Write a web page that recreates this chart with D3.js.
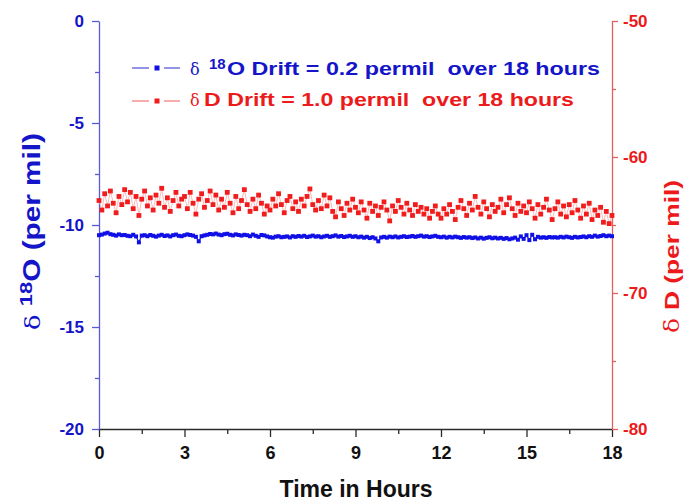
<!DOCTYPE html>
<html><head><meta charset="utf-8">
<script src="https://cdn.jsdelivr.net/npm/d3@7"></script>
<style>
html,body{margin:0;padding:0;background:#fff;}
svg{display:block;font-family:"Liberation Sans",Arial,sans-serif;}
</style>
</head><body><div id="chart"></div>
<script>
const xTicks = [0,3,6,9,12,15,18];
const xMinorTicks = [1.5,4.5,7.5,10.5,13.5,16.5];
const leftTicks = [0,-5,-10,-15,-20];
const leftMinorTicks = [-2.5,-7.5,-12.5,-17.5];
const rightTicks = [-50,-60,-70,-80];
const rightMinorTicks = [-55,-65,-75];

const times = [
0.0,0.1,0.2,0.3,0.4,0.5,0.6,0.7,0.8,0.9,
1.0,1.1,1.2,1.3,1.4,1.5,1.6,1.7,1.8,1.9,
2.0,2.1,2.2,2.3,2.4,2.5,2.6,2.7,2.8,2.9,
3.0,3.1,3.2,3.3,3.4,3.5,3.6,3.7,3.8,3.9,
4.0,4.1,4.2,4.3,4.4,4.5,4.6,4.7,4.8,4.9,
5.0,5.1,5.2,5.3,5.4,5.5,5.6,5.7,5.8,5.9,
6.0,6.1,6.2,6.3,6.4,6.5,6.6,6.7,6.8,6.9,
7.0,7.1,7.2,7.3,7.4,7.5,7.6,7.7,7.8,7.9,
8.0,8.1,8.2,8.3,8.4,8.5,8.6,8.7,8.8,8.9,
9.0,9.1,9.2,9.3,9.4,9.5,9.6,9.7,9.8,9.9,
10.0,10.1,10.2,10.3,10.4,10.5,10.6,10.7,10.8,10.9,
11.0,11.1,11.2,11.3,11.4,11.5,11.6,11.7,11.8,11.9,
12.0,12.1,12.2,12.3,12.4,12.5,12.6,12.7,12.8,12.9,
13.0,13.1,13.2,13.3,13.4,13.5,13.6,13.7,13.8,13.9,
14.0,14.1,14.2,14.3,14.4,14.5,14.6,14.7,14.8,14.9,
15.0,15.1,15.2,15.3,15.4,15.5,15.6,15.7,15.8,15.9,
16.0,16.1,16.2,16.3,16.4,16.5,16.6,16.7,16.8,16.9,
17.0,17.1,17.2,17.3,17.4,17.5,17.6,17.7,17.8,17.9,
18.0];

const d18O = [
-10.50,-10.47,-10.42,-10.38,-10.45,-10.48,-10.52,-10.46,-10.50,-10.49,
-10.53,-10.55,-10.48,-10.56,-10.85,-10.52,-10.50,-10.55,-10.49,-10.53,
-10.57,-10.52,-10.48,-10.54,-10.51,-10.56,-10.50,-10.47,-10.53,-10.55,
-10.50,-10.46,-10.49,-10.52,-10.58,-10.80,-10.55,-10.51,-10.48,-10.44,
-10.46,-10.42,-10.47,-10.50,-10.45,-10.43,-10.48,-10.51,-10.46,-10.49,
-10.52,-10.48,-10.50,-10.55,-10.47,-10.53,-10.58,-10.49,-10.51,-10.56,
-10.60,-10.62,-10.57,-10.55,-10.60,-10.58,-10.56,-10.61,-10.55,-10.58,
-10.54,-10.57,-10.53,-10.59,-10.56,-10.52,-10.57,-10.55,-10.60,-10.56,
-10.53,-10.58,-10.55,-10.51,-10.57,-10.54,-10.59,-10.56,-10.53,-10.58,
-10.55,-10.60,-10.57,-10.62,-10.58,-10.64,-10.60,-10.66,-10.80,-10.61,
-10.58,-10.62,-10.57,-10.60,-10.56,-10.61,-10.58,-10.55,-10.59,-10.57,
-10.54,-10.58,-10.55,-10.52,-10.57,-10.55,-10.59,-10.56,-10.53,-10.58,
-10.60,-10.57,-10.62,-10.58,-10.61,-10.57,-10.60,-10.63,-10.59,-10.62,
-10.60,-10.64,-10.61,-10.66,-10.62,-10.67,-10.63,-10.60,-10.65,-10.62,
-10.66,-10.63,-10.68,-10.64,-10.70,-10.66,-10.62,-10.72,-10.56,-10.68,
-10.50,-10.74,-10.48,-10.70,-10.58,-10.62,-10.60,-10.63,-10.59,-10.61,
-10.60,-10.62,-10.58,-10.61,-10.57,-10.60,-10.63,-10.58,-10.61,-10.59,
-10.56,-10.60,-10.55,-10.58,-10.52,-10.57,-10.54,-10.50,-10.55,-10.52,
-10.55];

const dD = [
-63.2,-63.9,-62.7,-63.6,-62.5,-63.4,-64.1,-62.9,-63.5,-62.4,
-63.3,-62.6,-63.8,-62.9,-64.3,-63.1,-62.5,-63.6,-63.0,-63.9,
-62.8,-63.4,-62.3,-63.7,-63.0,-64.0,-63.2,-62.6,-63.6,-63.1,
-62.9,-63.8,-62.6,-63.4,-64.2,-63.1,-62.7,-63.7,-63.2,-62.5,
-63.5,-62.8,-63.9,-63.1,-63.7,-62.6,-63.4,-64.1,-62.9,-63.8,
-63.2,-62.4,-63.5,-64.0,-63.1,-63.8,-62.8,-63.4,-64.2,-63.6,
-63.9,-63.1,-63.6,-62.7,-63.5,-64.1,-63.2,-62.9,-63.8,-63.3,
-64.0,-63.1,-63.6,-62.9,-62.35,-63.5,-63.9,-63.2,-63.8,-62.8,
-63.6,-63.0,-64.0,-64.4,-63.3,-63.8,-64.3,-63.4,-63.9,-63.1,
-63.7,-64.1,-63.3,-63.9,-64.5,-63.4,-64.0,-63.6,-64.3,-63.7,
-63.3,-63.9,-64.7,-63.6,-64.0,-63.2,-63.7,-64.2,-63.4,-63.9,
-64.3,-63.5,-64.0,-63.7,-64.2,-63.8,-64.5,-64.0,-63.6,-64.2,
-64.5,-63.8,-64.2,-63.5,-64.0,-64.6,-63.7,-63.2,-63.8,-64.3,
-63.4,-63.9,-62.9,-63.7,-64.2,-63.3,-63.8,-64.4,-63.5,-64.0,
-63.7,-63.1,-64.1,-63.5,-63.0,-63.8,-64.3,-63.4,-64.0,-63.6,
-64.1,-63.3,-63.8,-64.5,-63.5,-64.2,-63.7,-63.1,-63.9,-64.6,
-63.8,-63.3,-64.2,-63.6,-64.4,-63.5,-64.1,-63.2,-63.9,-64.5,
-63.6,-64.2,-63.4,-64.6,-63.9,-64.3,-63.7,-64.8,-64.0,-64.9,
-64.3];

const legendTexts = ["O Drift = 0.2 permil  over 18 hours", "D Drift = 1.0 permil  over 18 hours"];
const xTitle = "Time in Hours";
const leftTitleRest = "O (per mil)";
const rightTitleRest = "D (per mil)";

const W = 686, H = 502;
const BLUE = "#1414c8", RED = "#ec1a1a";
const BLUE_AXIS = "#5a5ad8", RED_AXIS = "#e06060", DARK = "#2a2a2a";

const svg = d3.select("#chart").append("svg").attr("width", W).attr("height", H);

const x = d3.scaleLinear().domain([0,18]).range([99,612]);
const yL = d3.scaleLinear().domain([-20,0]).range([429,21]);
const yR = d3.scaleLinear().domain([-80,-50]).range([429,21]);

function styleAxis(g, color, labelColor, size) {
  g.selectAll("path,line").attr("stroke", color).attr("stroke-width", 1.3);
  g.selectAll("text").attr("fill", labelColor).style("font-size", size + "px").style("font-weight", "bold")
    .style("font-family", '"Liberation Sans", Arial, sans-serif');
}

// bottom axis
const gB = svg.append("g").attr("transform", "translate(0,429)");
gB.call(d3.axisBottom(x).tickValues(xMinorTicks).tickSize(5).tickFormat("").tickSizeOuter(0));
gB.call(g => g.select(".domain").remove());
const gB2 = svg.append("g").attr("transform", "translate(0,429)");
gB2.call(d3.axisBottom(x).tickValues(xTicks).tickSize(8).tickPadding(9).tickSizeOuter(0).tickFormat(d3.format("d")));
styleAxis(gB, DARK, "#111", 18);
styleAxis(gB2, DARK, "#111", 18);

// left axis
const gL = svg.append("g").attr("transform", "translate(99,0)");
gL.call(d3.axisLeft(yL).tickValues(leftMinorTicks).tickSize(4).tickFormat("").tickSizeOuter(0));
gL.call(g => g.select(".domain").remove());
const gL2 = svg.append("g").attr("transform", "translate(99,0)");
gL2.call(d3.axisLeft(yL).tickValues(leftTicks).tickSize(7).tickPadding(8).tickSizeOuter(0).tickFormat(d3.format("d")));
styleAxis(gL, BLUE_AXIS, BLUE, 17);
styleAxis(gL2, BLUE_AXIS, BLUE, 17);
gL2.selectAll("text").text(d => d === 0 ? "0" : "-" + Math.abs(d));

// right axis
const gR = svg.append("g").attr("transform", "translate(612,0)");
gR.call(d3.axisRight(yR).tickValues(rightMinorTicks).tickSize(4).tickFormat("").tickSizeOuter(0));
gR.call(g => g.select(".domain").remove());
const gR2 = svg.append("g").attr("transform", "translate(612,0)");
gR2.call(d3.axisRight(yR).tickValues(rightTicks).tickSize(6).tickPadding(5).tickSizeOuter(0));
styleAxis(gR, RED_AXIS, RED, 17);
styleAxis(gR2, RED_AXIS, RED, 17);
gR2.selectAll("text").text(d => "-" + Math.abs(d));

// data
const redPts = times.map((t,i) => [t, dD[i]]);
const bluePts = times.map((t,i) => [t, d18O[i]]);

svg.append("path").datum(redPts)
  .attr("d", d3.line().x(d => x(d[0])).y(d => yR(d[1])))
  .attr("fill","none").attr("stroke","#f7a8a8").attr("stroke-width",0.8);
svg.append("g").selectAll("rect").data(redPts).join("rect")
  .attr("x", d => x(d[0]) - 2.4).attr("y", d => yR(d[1]) - 2.4)
  .attr("width", 4.8).attr("height", 4.8).attr("fill", "#f21c1c");

svg.append("path").datum(bluePts)
  .attr("d", d3.line().x(d => x(d[0])).y(d => yL(d[1])))
  .attr("fill","none").attr("stroke","#1f1fe0").attr("stroke-width",1.2);
svg.append("g").selectAll("rect").data(bluePts).join("rect")
  .attr("x", d => x(d[0]) - 2).attr("y", d => yL(d[1]) - 2)
  .attr("width", 4).attr("height", 4).attr("fill", "#1010e6");

// legend
const legendRows = [
  {color: BLUE, line: "#5a5ad8", mark: "#1010e6", y: 68, base: 75, sup: true, textX: 227, textEnd: 600},
  {color: RED, line: "#f08080", mark: "#f21c1c", y: 101, base: 106, sup: false, textX: 204, textEnd: 574}
];
legendRows.forEach((r, i) => {
  const g = svg.append("g");
  g.append("line").attr("x1",132).attr("x2",149).attr("y1",r.y).attr("y2",r.y).attr("stroke",r.line).attr("stroke-width",1.3);
  g.append("line").attr("x1",164).attr("x2",180).attr("y1",r.y).attr("y2",r.y).attr("stroke",r.line).attr("stroke-width",1.3);
  g.append("rect").attr("x",154.5).attr("y",r.y-2.5).attr("width",5).attr("height",5).attr("fill",r.mark);
  g.append("text").attr("x",190).attr("y",r.base).text("δ")
    .attr("fill",r.color).style("font-family",'"DejaVu Serif","Liberation Serif",serif').style("font-size","16px");
  if (r.sup) {
    g.append("text").attr("x",209).attr("y",69).text("18")
      .attr("fill",r.color).style("font-size","15px").style("font-weight","bold");
  }
  g.append("text").attr("x", r.textX).attr("y", r.base).text(legendTexts[i])
    .attr("fill", r.color).style("font-size","18px").style("font-weight","bold")
    .style("white-space","pre")
    .attr("textLength", r.textEnd - r.textX).attr("lengthAdjust","spacingAndGlyphs");
});

// x title
svg.append("text").attr("x",356).attr("y",497).attr("text-anchor","middle").text(xTitle)
  .attr("fill","#111").style("font-size","23px").style("font-weight","bold");

// left title
const lt = svg.append("text").attr("transform","translate(40,330) rotate(-90)").attr("fill", BLUE)
  .attr("textLength", 197).attr("lengthAdjust","spacingAndGlyphs");
lt.append("tspan").text("δ ").style("font-family",'"DejaVu Serif","Liberation Serif",serif').style("font-size","20px");
lt.append("tspan").text("18").attr("dy",-8).style("font-size","17px").style("font-weight","bold");
lt.append("tspan").text(leftTitleRest).attr("dy",8).style("font-size","23px").style("font-weight","bold");

// right title
const rt = svg.append("text").attr("transform","translate(679,333) rotate(-90)").attr("fill", RED)
  .attr("textLength", 153).attr("lengthAdjust","spacingAndGlyphs");
rt.append("tspan").text("δ ").style("font-family",'"DejaVu Serif","Liberation Serif",serif').style("font-size","20px");
rt.append("tspan").text(rightTitleRest).style("font-size","21px").style("font-weight","bold");
</script>
</body></html>
